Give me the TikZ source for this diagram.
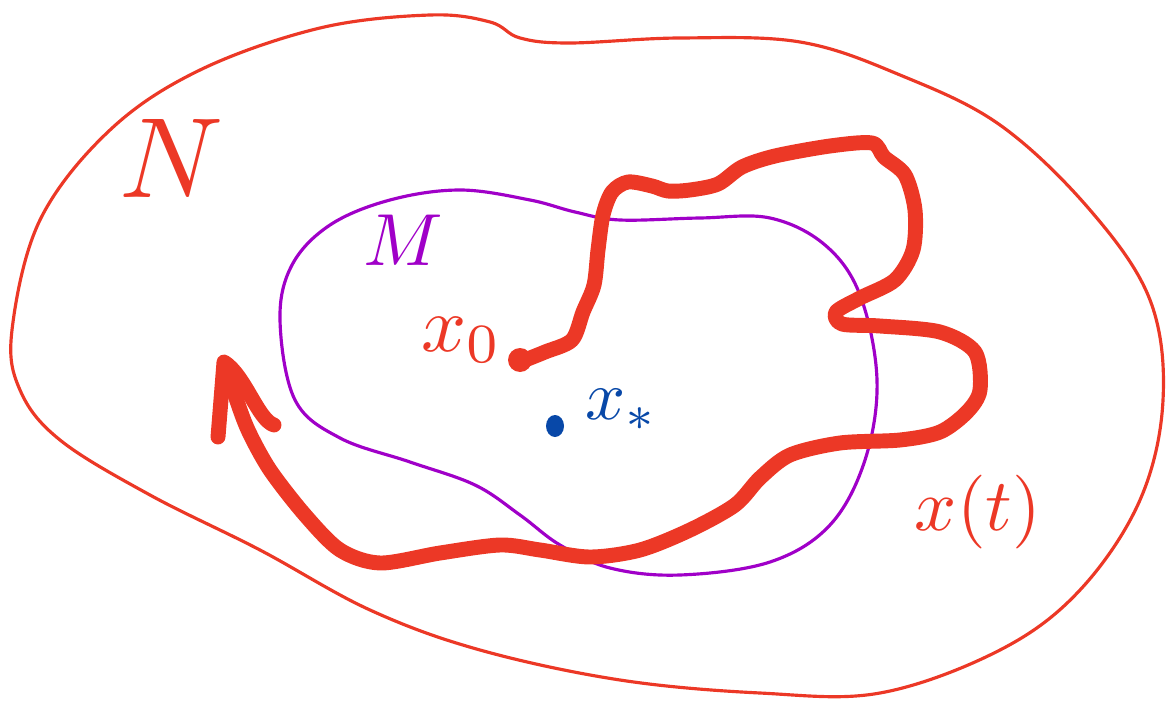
\documentclass[tikz,border=0pt]{standalone}
\usepackage{amsmath,amssymb}
\definecolor{pen red}{RGB}{236,56,38}
\definecolor{pen purple}{RGB}{160,0,200}
\definecolor{pen blue}{RGB}{8,72,168}

\begin{document}
\begin{tikzpicture}[x=0.02cm, y=-0.02cm, line cap=round, line join=round,
	setline/.style={pen red, line width=1.8pt},
	innerline/.style={pen purple, line width=1.8pt},
	trajectory/.style={pen red, line width=8.5pt},
	hand/.style={inner sep=0pt}]
	\useasboundingbox (0,0) rectangle (1168,702);
	% outer set N
	\draw[setline] plot[smooth cycle, tension=0.6] coordinates {(12,330) (40,220) (110,130) (200,70) (320,28) (430,15) (490,22) (520,38) (570,43) (680,38) (800,42) (900,75) (1000,125) (1090,210) (1150,300) (1163,400) (1140,500) (1080,590) (1000,650) (880,693) (760,693) (620,680) (480,650) (370,610) (260,550) (150,495) (60,440) (20,390)};
	% inner set M
	\draw[innerline] plot[smooth cycle, tension=0.6] coordinates {(280,320) (292,265) (330,225) (390,200) (460,190) (530,200) (575,212) (620,220) (700,218) (770,218) (825,245) (860,295) (877,380) (865,460) (830,525) (770,562) (680,575) (610,568) (560,545) (520,515) (475,485) (410,462) (340,438) (295,400)};
	% trajectory x(t), from x_0 to the arrow tip
	\draw[trajectory] plot[smooth, tension=0.5] coordinates {(520,362) (545,352) (572,340) (583,312) (594,285) (598,250) (603,215) (612,192) (628,182) (652,186) (668,191) (690,190) (718,184) (742,167) (775,156) (830,146) (872,143) (884,157) (905,175) (915,210) (913,250) (895,280) (860,298) (836,312) (842,324) (880,326) (940,332) (975,352) (980,390) (967,412) (940,432) (900,440) (840,443) (790,455) (760,478) (735,505) (690,530) (640,550) (590,557) (540,550) (500,545) (440,553) (380,563) (340,550) (305,515) (270,470) (248,430) (235,395) (226,365)};
	\coordinate (tip) at (224,362);
	\draw[trajectory] (218,437) -- (tip) .. controls (245,375) and (258,420) .. (274,425);
	\fill[pen red] (520,360) circle (12);
	\fill[pen blue] (555,426) ellipse (9 and 11);
	% labels
	\node[hand, pen red] (lblN) at (172,158) {\scalebox{6.5}{$N$}};
	\node[hand, pen purple] (lblM) at (403,240) {\scalebox{4.2}{$M$}};
	\node[hand, pen red] (lblx0) at (462,340) {\scalebox{4.5}{$x_0$}};
	\node[hand, pen blue] (lblxs) at (622,410) {\scalebox{4}{$x_\ast$}};
	\node[hand, pen red] (lblxt) at (978,512) {\scalebox{4.2}{$x(t)$}};
\end{tikzpicture}
\end{document}
